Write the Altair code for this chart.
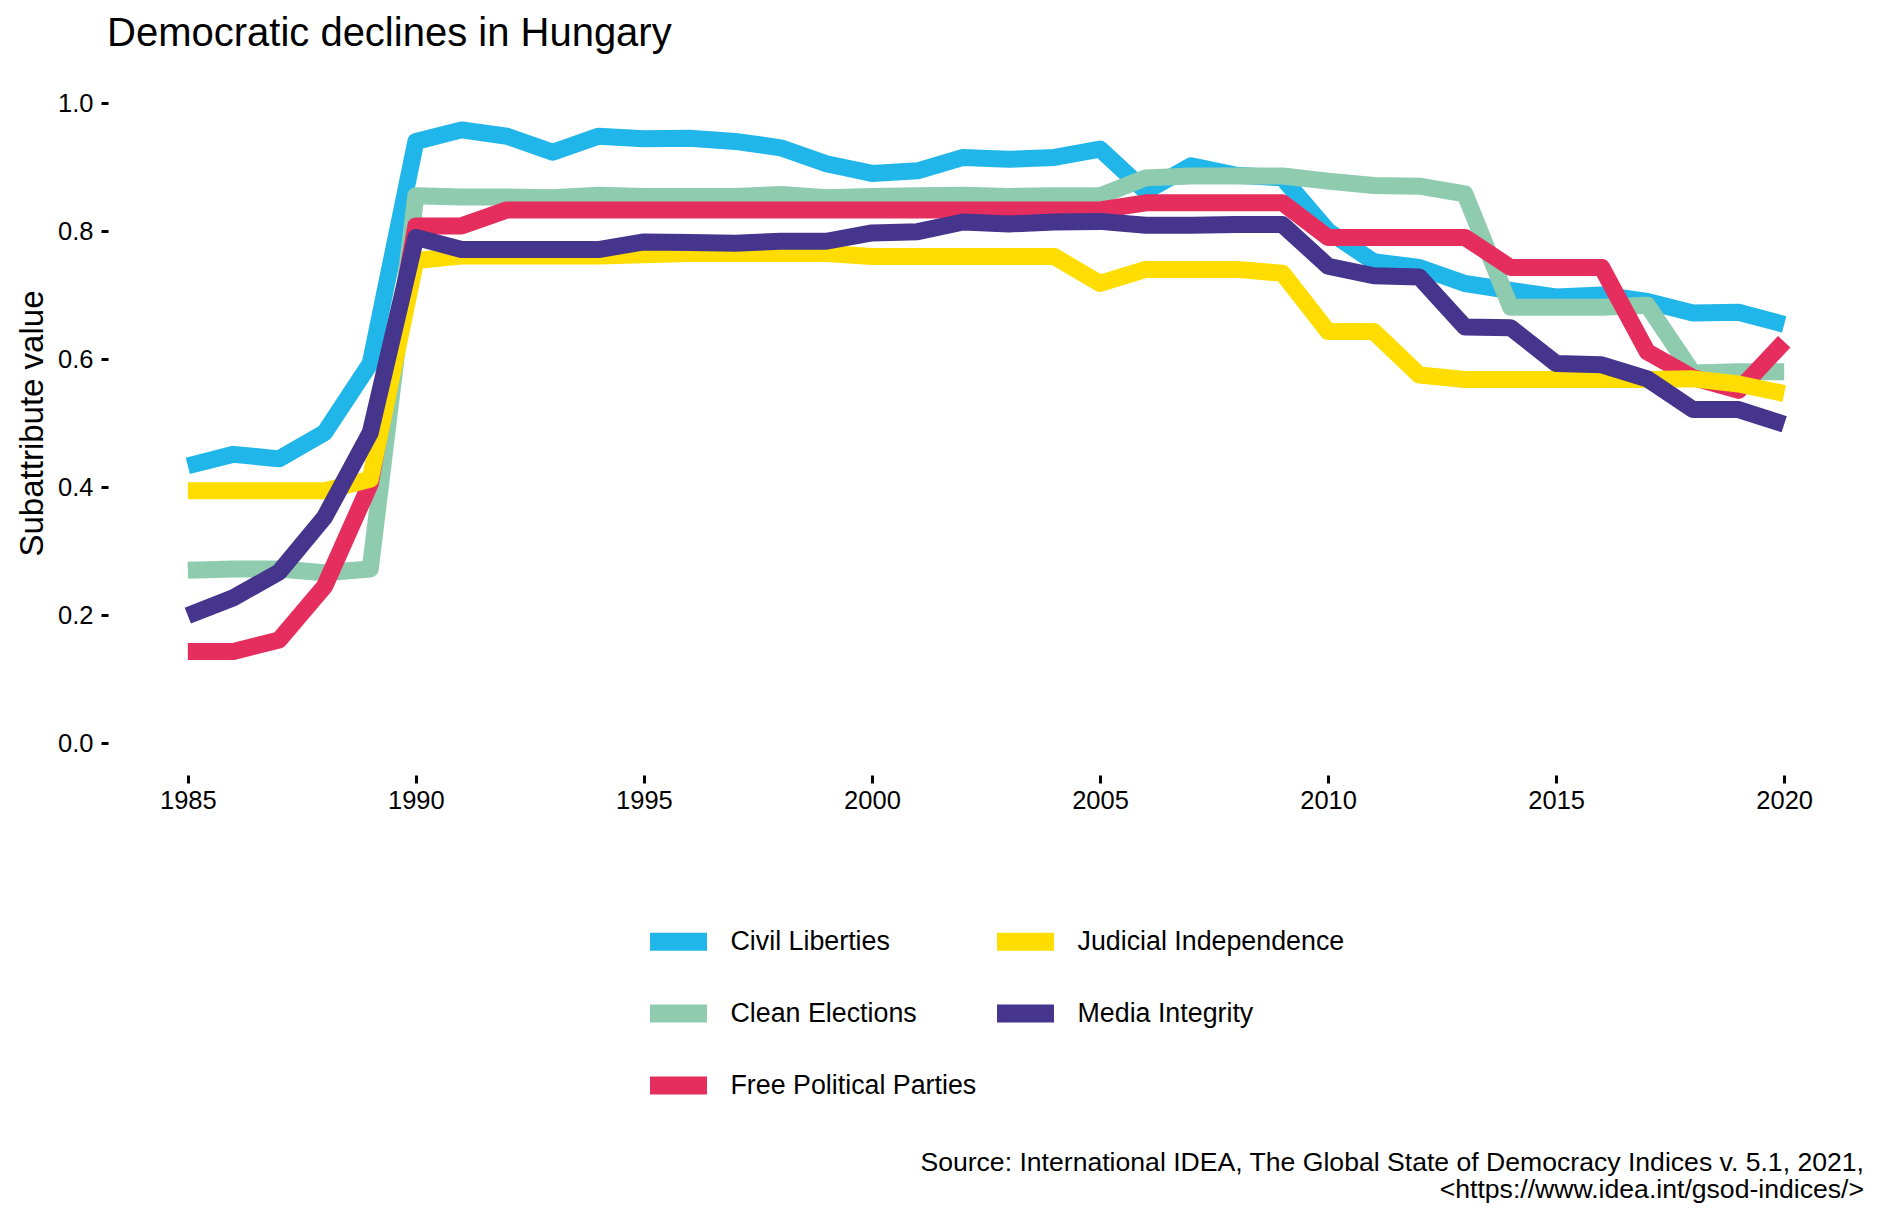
import altair as alt
import pandas as pd

years = list(range(1985, 2021))

series_names = ["Civil Liberties", "Clean Elections", "Free Political Parties",
                "Judicial Independence", "Media Integrity"]

civil_liberties = [0.433, 0.451, 0.444, 0.485, 0.593, 0.940, 0.958, 0.948, 0.923, 0.948,
                   0.944, 0.945, 0.940, 0.930, 0.905, 0.890, 0.894, 0.915, 0.912, 0.915,
                   0.928, 0.862, 0.902, 0.887, 0.883, 0.800, 0.752, 0.743, 0.718, 0.707,
                   0.697, 0.700, 0.690, 0.672, 0.673, 0.654]
clean_elections = [0.270, 0.272, 0.272, 0.266, 0.272, 0.855, 0.853, 0.853, 0.852, 0.856,
                   0.854, 0.854, 0.854, 0.857, 0.852, 0.854, 0.855, 0.856, 0.854, 0.855,
                   0.855, 0.883, 0.886, 0.886, 0.886, 0.878, 0.871, 0.870, 0.858, 0.681,
                   0.681, 0.681, 0.684, 0.578, 0.580, 0.580]
free_parties = [0.143, 0.143, 0.161, 0.245, 0.405, 0.808, 0.808, 0.833, 0.833, 0.833,
                0.833, 0.833, 0.833, 0.833, 0.833, 0.833, 0.833, 0.833, 0.833, 0.833,
                0.833, 0.844, 0.844, 0.844, 0.844, 0.790, 0.790, 0.790, 0.790, 0.743,
                0.743, 0.743, 0.611, 0.571, 0.551, 0.627]
judicial = [0.394, 0.394, 0.394, 0.394, 0.412, 0.754, 0.761, 0.761, 0.761, 0.761,
            0.763, 0.765, 0.765, 0.765, 0.765, 0.760, 0.760, 0.760, 0.760, 0.760,
            0.718, 0.740, 0.740, 0.740, 0.734, 0.643, 0.643, 0.575, 0.568, 0.568,
            0.568, 0.568, 0.568, 0.569, 0.561, 0.546]
media = [0.199, 0.227, 0.267, 0.353, 0.485, 0.790, 0.771, 0.771, 0.771, 0.771,
         0.783, 0.782, 0.781, 0.784, 0.784, 0.797, 0.799, 0.814, 0.811, 0.814,
         0.815, 0.809, 0.809, 0.810, 0.810, 0.745, 0.730, 0.728, 0.650, 0.649,
         0.593, 0.591, 0.569, 0.521, 0.521, 0.498]

series_values = [civil_liberties, clean_elections, free_parties, judicial, media]
series_colors = ["#21B6E9", "#8ECBAF", "#E52D5E", "#FFDD00", "#45358C"]

x_ticks = [1985, 1990, 1995, 2000, 2005, 2010, 2015, 2020]
y_ticks = [0.0, 0.2, 0.4, 0.6, 0.8, 1.0]

title_text = "Democratic declines in Hungary"
y_title = "Subattribute value"
caption_lines = ["Source: International IDEA, The Global State of Democracy Indices v. 5.1, 2021,",
                 "<https://www.idea.int/gsod-indices/>"]

rows = []
for name, vals in zip(series_names, series_values):
    for yr, v in zip(years, vals):
        rows.append({"series": name, "year": yr, "value": v})
df = pd.DataFrame(rows)

FONT = "Liberation Sans"
W, H = 1756, 704

lines = alt.Chart(df).mark_line(
    strokeWidth=17, strokeCap="butt", strokeJoin="round"
).encode(
    x=alt.X("year:Q",
            scale=alt.Scale(domain=[1983.25, 2021.75], nice=False, zero=False),
            axis=alt.Axis(values=x_ticks, format="d", title=None,
                          tickSize=8, labelPadding=5)),
    y=alt.Y("value:Q",
            scale=alt.Scale(domain=[-0.05, 1.05], nice=False, zero=False),
            axis=alt.Axis(values=y_ticks, format=".1f", title=y_title,
                          tickSize=7, labelPadding=8,
                          titleAngle=270, titleBaseline="alphabetic",
                          titleAlign="center", titleX=-66, titleY=H / 2,
                          titleFontSize=33)),
    color=alt.Color("series:N",
                    scale=alt.Scale(domain=series_names, range=series_colors),
                    legend=alt.Legend(title=None, orient="none",
                                      legendX=533, legendY=834.7,
                                      columns=2, symbolType="stroke",
                                      symbolSize=3249, symbolStrokeWidth=18,
                                      symbolOpacity=1,
                                      labelFontSize=26.8, labelFont=FONT,
                                      labelColor="black", labelOffset=14.5,
                                      labelLimit=600, clipHeight=71.8,
                                      rowPadding=0, columnPadding=11,
                                      padding=0)),
)

title = alt.Chart(pd.DataFrame({"k": [0]})).mark_text(
    text=title_text, align="left", baseline="alphabetic",
    fontSize=40, font=FONT, color="black"
).encode(x=alt.value(-1), y=alt.value(-24.6))

caption = alt.Chart(pd.DataFrame({"k": [0]})).mark_text(
    text=caption_lines, align="right", baseline="alphabetic",
    fontSize=26.6, font=FONT, color="black", lineHeight=26.5
).encode(x=alt.value(W), y=alt.value(1100.4))

chart = alt.layer(lines, title, caption).properties(
    width=W, height=H,
    autosize=alt.AutoSizeParams(type="none"),
    padding={"left": 100, "top": 63, "right": 5, "bottom": 430},
).configure_view(stroke=None).configure_axis(
    domain=False, grid=False, labelFont=FONT, labelFontSize=25.5,
    labelColor="black", tickColor="black", tickWidth=3,
    titleFont=FONT, titleColor="black", titleFontWeight="normal"
)

chart.save("out.html", embed_options={"renderer": "svg", "actions": False})
